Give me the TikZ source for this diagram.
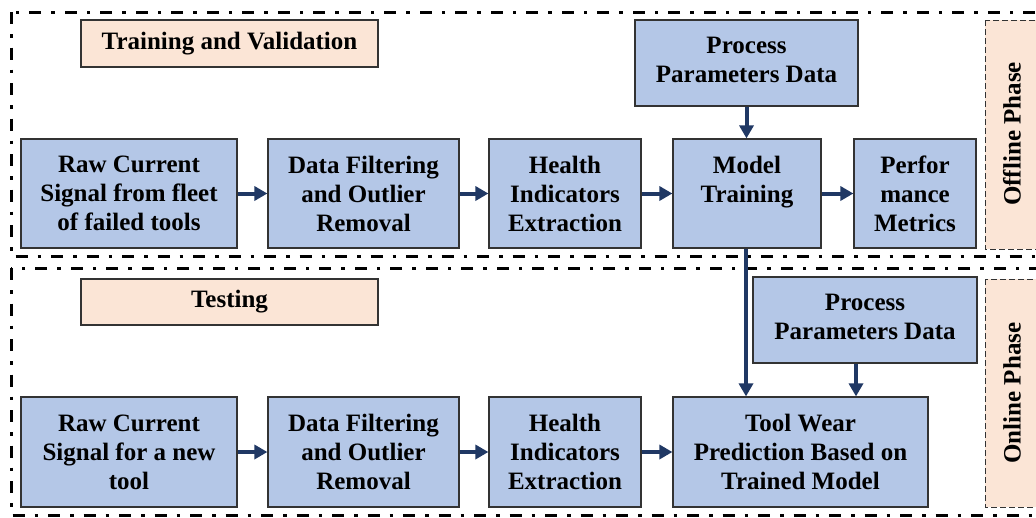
\documentclass[tikz,border=0pt]{standalone}
\usepackage{fontspec}
\setmainfont{Liberation Serif}
\usetikzlibrary{arrows.meta}
\definecolor{boxblue}{HTML}{B4C7E7}
\definecolor{peach}{HTML}{FBE5D6}
\definecolor{arrnavy}{HTML}{203864}
\definecolor{edgegray}{HTML}{333333}
\tikzset{
  txt/.style={font=\fontsize{25}{29}\selectfont\bfseries},
  box/.style={draw=edgegray, line width=1.2pt, fill=boxblue, align=center, inner sep=0pt, txt},
  titlebox/.style={draw=edgegray, line width=1.2pt, fill=peach, align=center, inner sep=0pt, txt},
  phasebox/.style={draw=edgegray, line width=1pt, dash pattern=on 6pt off 3pt, fill=peach},
  phasetext/.style={rotate=90, inner sep=0pt, txt},
  frame/.style={draw=black, line width=3pt, dash pattern=on 12pt off 10pt on 3.5pt off 10pt},
  flow/.style={draw=arrnavy, line width=4pt, -{Triangle[length=13pt,width=14pt]}}
}
\begin{document}
\begin{tikzpicture}[x=1pt,y=-1pt]
\useasboundingbox (0,0) rectangle (1036,517);
\clip (0,0) rectangle (1036,517);
\fill[white] (0,0) rectangle (1036,517);
% frames
\draw[frame] (11,12) rectangle (1060,256);
\draw[frame] (11,268) rectangle (1060,515);
% phase boxes
\draw[phasebox] (985,20) rectangle (1060,249);
\draw[phasebox] (985,279) rectangle (1060,507);
\node[phasetext] (offline) at (1012,134) {Offline Phase};
\node[phasetext] (online) at (1012,393) {Online Phase};
% title boxes
\node[titlebox, minimum width=297pt, minimum height=47pt] (tv) at (229.5,43.5) {Training and Validation};
\node[titlebox, minimum width=297pt, minimum height=46pt] (test) at (229.5,302) {Testing};
% top row
\node[box, minimum width=216pt, minimum height=109pt] (raw1) at (129,193.5) {Raw Current\\Signal from fleet\\of failed tools};
\node[box, minimum width=191pt, minimum height=109pt] (filt1) at (363.5,193.5) {Data Filtering\\and Outlier\\Removal};
\node[box, minimum width=152pt, minimum height=109pt] (hi1) at (565,193.5) {Health\\Indicators\\Extraction};
\node[box, minimum width=148pt, minimum height=109pt] (mt) at (747,193.5) {Model\\Training\\~};
\node[box, minimum width=122pt, minimum height=109pt] (pm) at (915,193.5) {Perfor\\mance\\Metrics};
\node[box, minimum width=223pt, minimum height=86pt, text depth=7pt] (pp1) at (746.5,63) {Process\\Parameters Data};
% bottom row
\node[box, minimum width=216pt, minimum height=110pt] (raw2) at (129,452) {Raw Current\\Signal for a new\\tool};
\node[box, minimum width=191pt, minimum height=110pt] (filt2) at (363.5,452) {Data Filtering\\and Outlier\\Removal};
\node[box, minimum width=152pt, minimum height=110pt] (hi2) at (565,452) {Health\\Indicators\\Extraction};
\node[box, minimum width=255pt, minimum height=110pt] (tw) at (800.5,452) {Tool Wear\\Prediction Based on\\Trained Model};
\node[box, minimum width=224pt, minimum height=86pt, text depth=7pt] (pp2) at (865,320) {Process\\Parameters Data};
% arrows
\draw[flow] (raw1) -- (filt1);
\draw[flow] (filt1) -- (hi1);
\draw[flow] (hi1) -- (mt);
\draw[flow] (mt) -- (pm);
\draw[flow] (pp1.south) -- (pp1.south |- mt.north);
\draw[flow] ([xshift=-1pt]mt.south) -- ([xshift=-1pt]mt.south |- tw.north);
\draw[flow] ([xshift=-9pt]pp2.south) -- ([xshift=-9pt]pp2.south |- tw.north);
\draw[flow] (raw2) -- (filt2);
\draw[flow] (filt2) -- (hi2);
\draw[flow] (hi2) -- (tw);
\end{tikzpicture}
\end{document}
